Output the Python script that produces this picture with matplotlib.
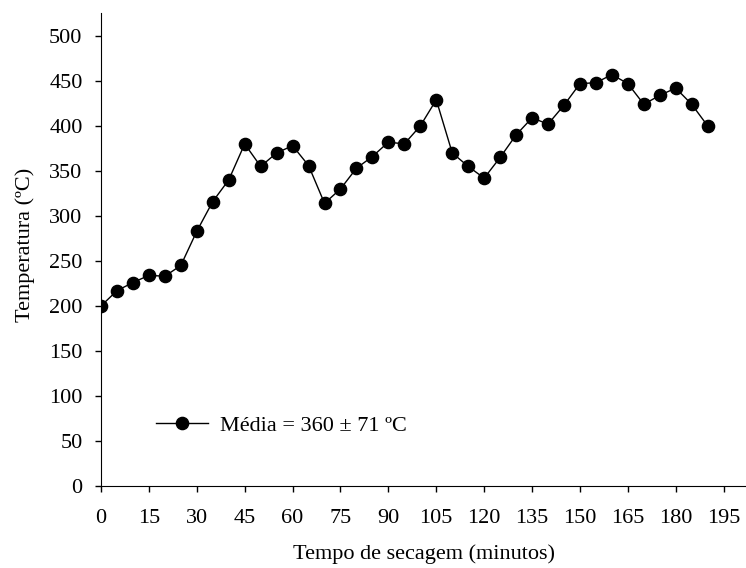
import matplotlib.pyplot as plt
from matplotlib.lines import Line2D

plt.rcParams['font.family'] = ['Liberation Serif', 'DejaVu Serif']

# Tempo de secagem (min) e temperatura medida (ºC)
tempo = [0, 5, 10, 15, 20, 25, 30, 35, 40, 45, 50, 55, 60, 65, 70, 75, 80, 85,
         90, 95, 100, 105, 110, 115, 120, 125, 130, 135, 140, 145, 150, 155,
         160, 165, 170, 175, 180, 185, 190]
temperatura = [200, 217, 226, 234, 233, 245, 283, 316, 340, 380, 355, 370, 378,
               356, 314, 330, 353, 366, 382, 380, 400, 429, 370, 355, 342, 365,
               390, 409, 402, 423, 447, 448, 457, 447, 424, 434, 442, 424, 400]
xticks = list(range(0, 196, 15))
yticks = list(range(0, 501, 50))
legenda = 'Média = 360 ± 71 ºC'

fs = 16

fig = plt.figure(figsize=(7.46, 5.68), dpi=100)
ax = fig.add_axes([0.1354, 0.1444, 0.8646, 0.832])

ax.plot(tempo, temperatura, color='black', linewidth=1.0, marker='o',
        markersize=8.8, markerfacecolor='black', markeredgecolor='black')

ax.set_xlim(0, 202)
ax.set_ylim(0, 525)
ax.set_xticks(xticks)
ax.set_yticks(yticks)
ax.tick_params(axis='both', direction='out', length=4.3, width=1, labelsize=fs)
ax.tick_params(axis='x', pad=12)
ax.tick_params(axis='y', pad=9)
ax.spines['top'].set_visible(False)
ax.spines['right'].set_visible(False)

ax.set_xlabel('Tempo de secagem (minutos)', fontsize=fs, labelpad=12)
ax.set_ylabel('Temperatura (ºC)', fontsize=fs)
ax.yaxis.set_label_coords(-0.102, 0.51)

handle = Line2D([], [], color='black', linewidth=1.0, marker='o', markersize=8.8)
ax.legend([handle], [legenda], loc='center left', bbox_to_anchor=(0.055, 0.128),
          frameon=False, fontsize=fs, handlelength=2.3, handletextpad=0.55)

fig.savefig('out.png', dpi=100)
